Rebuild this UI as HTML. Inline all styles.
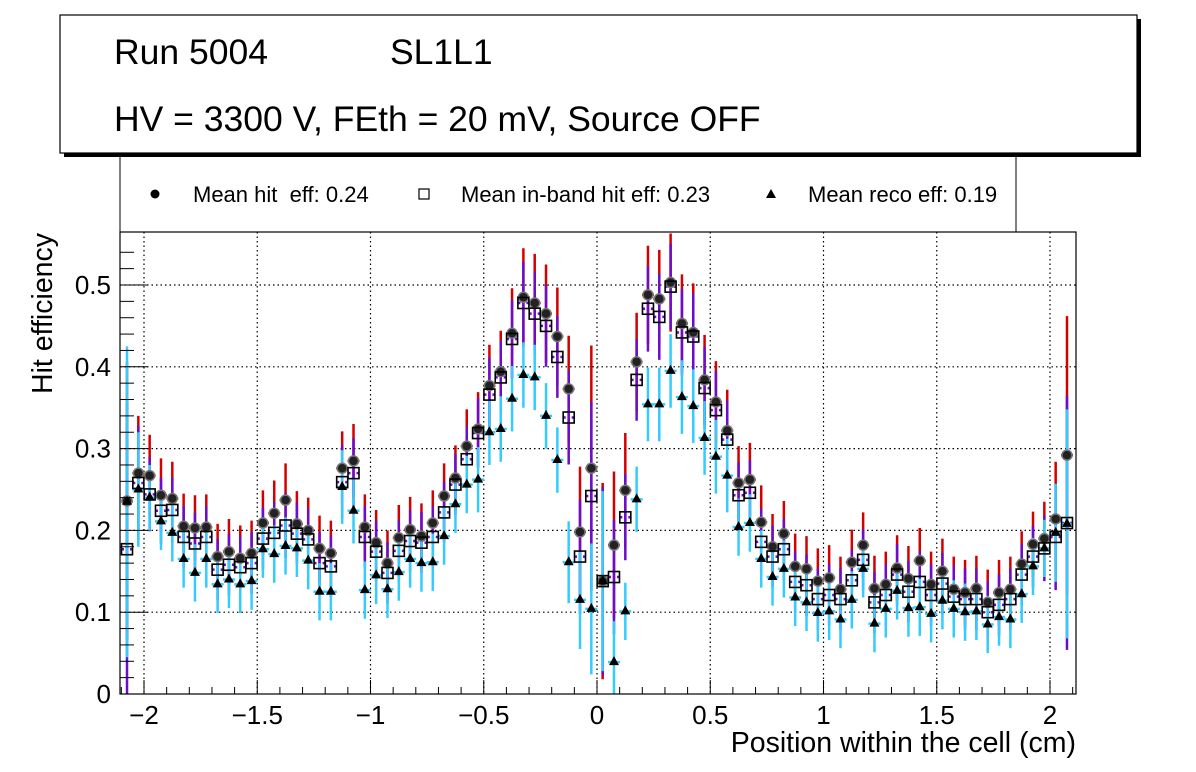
<!DOCTYPE html>
<html><head><meta charset="utf-8"><style>
body{margin:0;background:#fff;}
svg{display:block;font-family:"Liberation Sans",sans-serif;}
</style></head><body>
<svg id="c" width="1196" height="772">
<rect x="0" y="0" width="1196" height="772" fill="#fff"/>
<g>
<rect x="120" y="150" width="896" height="82" fill="#fff" stroke="#000" stroke-width="1"/>
<circle cx="155" cy="194" r="4.5" fill="#000"/>
<text x="193" y="202" font-size="22" xml:space="preserve" style="white-space:pre">Mean hit  eff: 0.24</text>
<rect x="419" y="189" width="10" height="10" fill="#fff" stroke="#000" stroke-width="1.2"/>
<text x="461" y="202" font-size="22">Mean in-band hit eff: 0.23</text>
<polygon points="771,189 776,198 766,198" fill="#000"/>
<text x="808" y="202" font-size="22">Mean reco eff: 0.19</text>
</g>
<g>
<rect x="64" y="19" width="1077" height="138" fill="#000"/>
<rect x="60" y="15" width="1077" height="138" fill="#fff" stroke="#000" stroke-width="1.2"/>
<text x="114" y="64" font-size="35.5">Run 5004</text>
<text x="390" y="64" font-size="35.5">SL1L1</text>
<text x="114" y="131" font-size="35.5">HV = 3300 V, FEth = 20 mV, Source OFF</text>
</g>
<g id="grid"></g><g id="marks"></g><g id="axes"></g>
<text x="1076" y="752" font-size="28.5" text-anchor="end">Position within the cell (cm)</text>
<text transform="translate(52,394) rotate(-90)" font-size="28.5">Hit efficiency</text>
</svg>
<script>
const hitEff=[.236,.270,.267,.243,.239,.205,.203,.204,.168,.174,.166,.172,.209,.221,.237,.208,.200,.178,.172,.276,.285,.204,.185,.160,.191,.201,.193,.209,.242,.264,.303,.324,.377,.394,.441,.485,.478,.465,.437,.373,.198,.276,.138,.182,.249,.406,.488,.483,.503,.453,.442,.384,.357,.322,.258,.262,.210,.180,.196,.156,.153,.138,.142,.128,.161,.182,.129,.134,.154,.141,.163,.134,.150,.128,.124,.129,.112,.124,.128,.159,.183,.190,.214,.292];
const inbandEff=[.177,.258,.244,.224,.225,.192,.184,.192,.152,.158,.155,.160,.190,.197,.206,.196,.189,.160,.156,.259,.270,.192,.174,.148,.175,.187,.185,.192,.222,.256,.287,.319,.366,.387,.434,.478,.465,.450,.412,.338,.168,.242,.138,.143,.216,.384,.471,.461,.498,.442,.437,.374,.347,.311,.243,.246,.186,.168,.177,.137,.133,.116,.121,.116,.139,.164,.112,.121,.146,.125,.137,.121,.135,.119,.116,.116,.100,.109,.116,.146,.168,.178,.192,.209];
const recoEff=[.235,.250,.240,.211,.197,.165,.148,.165,.134,.140,.134,.138,.177,.171,.181,.178,.163,.125,.125,.253,.224,.127,.145,.128,.149,.165,.160,.161,.193,.232,.256,.262,.320,.324,.361,.390,.387,.340,.286,.161,.115,.104,.138,.039,.101,.238,.354,.354,.395,.363,.352,.313,.290,.267,.204,.209,.165,.143,.153,.118,.112,.099,.101,.091,.115,.153,.086,.104,.126,.105,.106,.098,.114,.104,.100,.101,.085,.094,.091,.122,.156,.178,.197,.208];
const errHit=[.17,.07,.05,.045,.045,.04,.04,.04,.04,.04,.04,.04,.04,.04,.045,.04,.04,.04,.04,.045,.045,.04,.04,.04,.04,.04,.04,.04,.04,.04,.045,.045,.05,.05,.055,.06,.06,.06,.06,.065,.08,.15,.12,.09,.07,.06,.06,.06,.06,.06,.06,.055,.05,.05,.045,.045,.045,.04,.04,.04,.04,.04,.04,.04,.04,.04,.04,.04,.04,.04,.04,.04,.04,.04,.04,.04,.04,.04,.04,.04,.04,.045,.07,.17];
const errReco=[.19,.07,.04,.035,.035,.035,.035,.035,.035,.035,.035,.035,.035,.035,.035,.035,.035,.035,.035,.045,.04,.035,.035,.035,.035,.035,.035,.035,.035,.035,.035,.04,.04,.04,.04,.04,.04,.04,.04,.05,.06,.08,.11,.05,.035,.04,.045,.045,.045,.045,.045,.045,.045,.045,.035,.035,.035,.035,.035,.035,.035,.035,.035,.035,.035,.035,.035,.035,.035,.035,.035,.035,.035,.035,.035,.035,.035,.035,.035,.035,.035,.035,.06,.14];
const binStart=-2.075, binStep=0.05;
const xTicks=[-2,-1.5,-1,-0.5,0,0.5,1,1.5,2];
const xTickLabels=["\u22122","\u22121.5","\u22121","\u22120.5","0","0.5","1","1.5","2"];
const yTicks=[0,0.1,0.2,0.3,0.4,0.5];
const yTickLabels=["0","0.1","0.2","0.3","0.4","0.5"];

const L=120,R=1076,T=232,B=694;
const X=v=>597+v*226.5;
const Y=v=>B-v*818;
const NS="http://www.w3.org/2000/svg";
function mk(tag,attrs,parent){const e=document.createElementNS(NS,tag);for(const k in attrs)e.setAttribute(k,attrs[k]);parent.appendChild(e);return e;}
const grid=document.getElementById('grid'),marks=document.getElementById('marks'),axes=document.getElementById('axes');

xTicks.forEach(v=>{const l=mk('line',{x1:X(v),x2:X(v),y1:T,y2:B,stroke:'#000','stroke-dasharray':'1.5,3','stroke-width':1.2},grid);

});
yTicks.forEach(v=>{if(v===0)return;const l=mk('line',{x1:L,x2:R,y1:Y(v),y2:Y(v),stroke:'#000','stroke-dasharray':'1.5,3','stroke-width':1.2},grid);

});

function vbar(x,v,e,col,parent){mk('line',{x1:x,x2:x,y1:Y(Math.min(v+e,0.565)),y2:Y(Math.max(v-e,0)),stroke:col,'stroke-width':2.5},parent);
mk('line',{x1:x-6,x2:x+6,y1:Y(v),y2:Y(v),stroke:col,'stroke-width':2.5,'stroke-dasharray':'3,6'},parent);}

const gH=mk('g',{},marks);


const gB=mk('g',{},marks);


const gR=mk('g',{},marks);


const gM=mk('g',{},marks);



hitEff.forEach((v,i)=>{const x=X(binStart+i*binStep);vbar(x,v,errHit[i],'#d40000',gH);});
inbandEff.forEach((v,i)=>{const x=X(binStart+i*binStep);vbar(x,v,(errHit[i]+errReco[i])/2,'#6a0dcc',gB);});
recoEff.forEach((v,i)=>{const x=X(binStart+i*binStep);vbar(x,v,errReco[i],'#33ccff',gR);});
hitEff.forEach((v,i)=>{const x=X(binStart+i*binStep);const c=mk('circle',{cx:x,cy:Y(v),r:5,fill:'#222',stroke:'#777','stroke-width':1.5},gM);

});
inbandEff.forEach((v,i)=>{const x=X(binStart+i*binStep);const r=mk('rect',{x:x-5.5,y:Y(v)-5.5,width:11,height:11,fill:'none',stroke:'#000','stroke-width':1.6},gM);

});
recoEff.forEach((v,i)=>{const x=X(binStart+i*binStep),y=Y(v);const p=mk('polygon',{points:`${x},${y-6} ${x+5},${y+3} ${x-5},${y+3}`,fill:'#000'},gM);

});

const fr=mk('rect',{x:L,y:T,width:R-L,height:B-T,fill:'none',stroke:'#000','stroke-width':1.2},axes);


for(let v=-2.1;v<=2.12;v+=0.1){const x=X(Math.round(v*10)/10);const maj=Math.abs(Math.round(v*10)%5)===0;
mk('line',{x1:x,x2:x,y1:B,y2:B-(maj?14:7),stroke:'#000','stroke-width':1},axes);}
for(let v=0;v<=0.56;v+=0.02){const y=Y(v);const maj=Math.round(v*100)%10===0;
mk('line',{x1:L,x2:L+(maj?28:14),y1:y,y2:y,stroke:'#000','stroke-width':1},axes);}
xTicks.forEach((v,i)=>{const t=mk('text',{x:X(v),y:724,'font-size':26,'text-anchor':'middle'},axes);t.textContent=xTickLabels[i];

});
yTicks.forEach((v,i)=>{const t=mk('text',{x:111,y:Y(v)+9,'font-size':26,'text-anchor':'end'},axes);t.textContent=yTickLabels[i];

});
</script>
</body></html>
